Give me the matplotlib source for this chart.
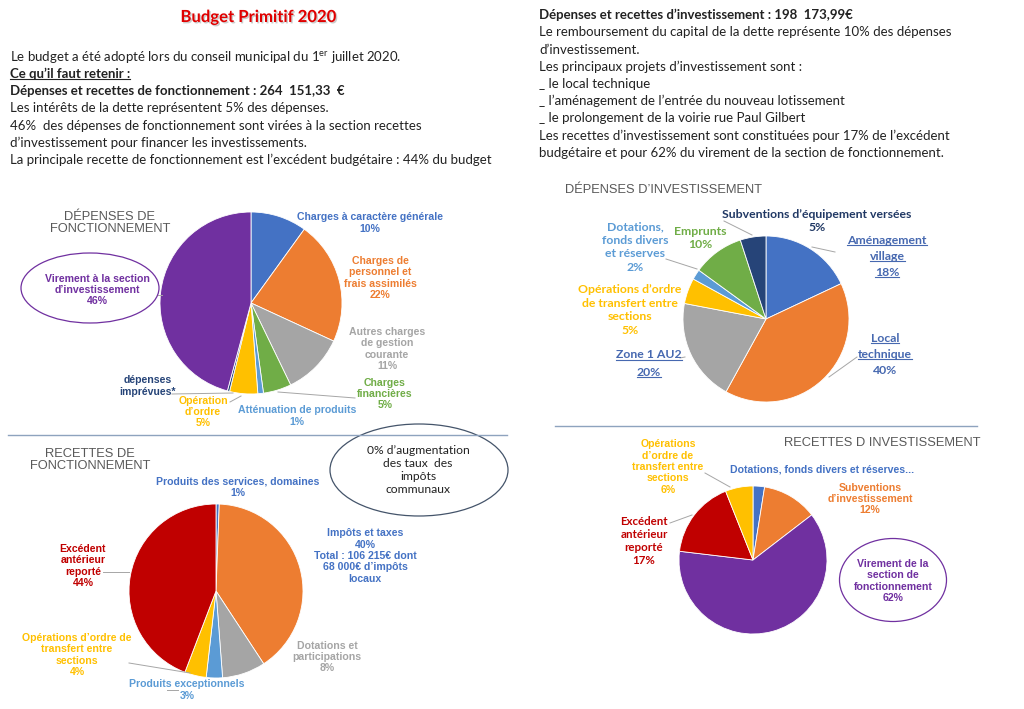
import matplotlib
matplotlib.use("Agg")
from matplotlib import pyplot as plt
from matplotlib.patches import Ellipse
import matplotlib.patheffects as pe

plt.rcParams['font.family'] = ['Lato', 'DejaVu Sans']
plt.rcParams['mathtext.fontset'] = 'custom'
plt.rcParams['mathtext.rm'] = 'Lato'

# couleurs type Office
BLEU = '#4472C4'
ORANGE = '#ED7D31'
GRIS = '#A5A5A5'
JAUNE = '#FFC000'
BLEU_CLAIR = '#5B9BD5'
VERT = '#70AD47'
BLEU_FONCE = '#264478'
VIOLET = '#7030A0'
ROUGE = '#C00000'

# ---- données ----
dep_fonc_noms = ['Charges à caractère générale', 'Charges de personnel et frais assimilés',
                 'Autres charges de gestion courante', 'Charges financières',
                 'Atténuation de produits', "Opération d'ordre", 'dépenses imprévues*',
                 "Virement à la section d'investissement"]
dep_fonc_pct = [10, 22, 11, 5, 1, 5, 0.4, 46]
dep_fonc_col = [BLEU, ORANGE, GRIS, VERT, BLEU_CLAIR, JAUNE, BLEU_FONCE, VIOLET]

dep_inv_noms = ['Aménagement village', 'Local technique', 'Zone 1 AU2',
                "Opérations d'ordre de transfert entre sections",
                'Dotations, fonds divers et réserves', 'Emprunts',
                "Subventions d'équipement versées"]
dep_inv_pct = [18, 40, 20, 5, 2, 10, 5]
dep_inv_col = [BLEU, ORANGE, GRIS, JAUNE, BLEU_CLAIR, VERT, BLEU_FONCE]

rec_fonc_noms = ['Produits des services, domaines', 'Impôts et taxes', 'Dotations et participations',
                 'Produits exceptionnels', "Opérations d'ordre de transfert entre sections",
                 'Excédent antérieur reporté']
rec_fonc_pct = [0.6, 40, 8, 3, 4, 44]
rec_fonc_col = [BLEU, ORANGE, GRIS, BLEU_CLAIR, JAUNE, ROUGE]

rec_inv_noms = ['Dotations, fonds divers et réserves', "Subventions d'investissement",
                'Virement de la section de fonctionnement', 'Excédent antérieur reporté',
                "Opérations d'ordre de transfert entre sections"]
rec_inv_pct = [2.5, 12, 62, 17, 6]
rec_inv_col = [BLEU, ORANGE, VIOLET, ROUGE, JAUNE]

texte_gauche = [
    "Le budget a été adopté lors du conseil municipal du 1$^{\\rm er}$ juillet 2020.",
    "Ce qu’il faut retenir :",
    "Dépenses et recettes de fonctionnement : 264  151,33  €",
    "Les intérêts de la dette représentent 5% des dépenses.",
    "46%  des dépenses de fonctionnement sont virées à la section recettes",
    "d’investissement pour financer les investissements.",
    "La principale recette de fonctionnement est l’excédent budgétaire : 44% du budget",
]
texte_droite = [
    "Dépenses et recettes d’investissement : 198  173,99€",
    "Le remboursement du capital de la dette représente 10% des dépenses",
    "d’investissement.",
    "Les principaux projets d’investissement sont :",
    "_ le local technique",
    "_ l’aménagement de l’entrée du nouveau lotissement",
    "_ le prolongement de la voirie rue Paul Gilbert",
    "Les recettes d’investissement sont constituées pour 17% de l’excédent",
    "budgétaire et pour 62% du virement de la section de fonctionnement.",
]

W, H = 1024, 709
fig = plt.figure(figsize=(W / 100, H / 100), dpi=100)
fig.patch.set_facecolor('white')


def camembert(cx, cy, rx, ry, vals, cols):
    ax = fig.add_axes([(cx - rx) / W, 1 - (cy + ry) / H, 2 * rx / W, 2 * ry / H])
    ax.pie(vals, colors=cols, startangle=90, counterclock=False,
           wedgeprops=dict(edgecolor='white', linewidth=0.6))
    ax.set_xlim(-1, 1)
    ax.set_ylim(-1, 1)
    ax.set_aspect('auto')
    ax.axis('off')
    return ax


camembert(251, 303, 91, 91, dep_fonc_pct, dep_fonc_col)
camembert(766, 319, 83, 83, dep_inv_pct, dep_inv_col)
camembert(216, 591, 87, 87, rec_fonc_pct, rec_fonc_col)
camembert(753, 560, 74, 74, rec_inv_pct, rec_inv_col)

bg = fig.add_axes([0, 0, 1, 1])
bg.set_xlim(0, W)
bg.set_ylim(H, 0)
bg.axis('off')
bg.patch.set_alpha(0)

soulignes = []

# titre
bg.text(258, 17, 'Budget Primitif 2020', color='#E00000', fontsize=12, fontweight='bold',
        ha='center', va='center',
        path_effects=[pe.SimplePatchShadow(offset=(1, -1), shadow_rgbFace='#999999', alpha=0.5),
                      pe.Normal()])

# textes du haut
y_g = [57, 74, 91, 108, 126, 143, 160]
for i, (ligne, y) in enumerate(zip(texte_gauche, y_g)):
    gras = i in (1, 2)
    t = bg.text(10, y, ligne, fontsize=9.5, color='#222222', va='center',
                fontweight='bold' if gras else 'normal')
    if i == 1:
        soulignes.append(t)

y_d = [15, 32, 50, 67, 84, 101, 118, 136, 153]
for i, (ligne, y) in enumerate(zip(texte_droite, y_d)):
    bg.text(539, y, ligne, fontsize=9.5, color='#222222', va='center',
            fontweight='bold' if i == 0 else 'normal')

# séparateurs
bg.plot([8, 507], [435, 435], color='#8EA3BE', lw=1)
bg.plot([555, 977], [426, 426], color='#8EA3BE', lw=1)

# titres des graphiques
TITRE = dict(color='#595959', fontsize=9.3, family=['Liberation Sans', 'DejaVu Sans'])
bg.text(110, 223, 'DÉPENSES DE\nFONCTIONNEMENT', ha='center', va='center', linespacing=1.05, **TITRE)
bg.text(565, 190, 'DÉPENSES D’INVESTISSEMENT', ha='left', va='center', **TITRE)
bg.text(90, 460, 'RECETTES DE\nFONCTIONNEMENT', ha='center', va='center', linespacing=1.05, **TITRE)
bg.text(784, 443, 'RECETTES D INVESTISSEMENT', ha='left', va='center', **TITRE)

ETQ = dict(fontsize=7.6, fontweight='bold', ha='center', va='center', linespacing=1.17,
           family=['Liberation Sans', 'DejaVu Sans'])

# étiquettes dépenses de fonctionnement
bg.text(370, 223, 'Charges à caractère générale\n' + '%g%%' % dep_fonc_pct[0], color=BLEU, **ETQ)
bg.text(380, 278, 'Charges de\npersonnel et\nfrais assimilés\n%g%%' % dep_fonc_pct[1], color=ORANGE, **ETQ)
bg.text(387, 349, 'Autres charges\nde gestion\ncourante\n%g%%' % dep_fonc_pct[2], color=GRIS, **ETQ)
bg.text(385, 394, 'Charges\nfinancières\n%g%%' % dep_fonc_pct[3], color=VERT, **ETQ)
bg.text(297, 416, 'Atténuation de produits\n%g%%' % dep_fonc_pct[4], color=BLEU_CLAIR, **ETQ)
bg.text(203, 412, 'Opération\nd’ordre\n%g%%' % dep_fonc_pct[5], color=JAUNE, **ETQ)
bg.text(148, 386, 'dépenses\nimprévues*', color=BLEU_FONCE, **ETQ)
bg.text(97, 290, 'Virement à la section\nd’investissement\n%g%%' % dep_fonc_pct[7], color=VIOLET, **ETQ)
bg.add_patch(Ellipse((90, 288), 138, 70, fill=False, edgecolor=VIOLET, lw=0.9))
for xs, ys in [([172, 233], [394, 393]), ([230, 241], [402, 396]), ([355, 278], [398, 392]),
               ([158, 162], [295, 295])]:
    bg.plot(xs, ys, color='#A6A6A6', lw=0.7)

# étiquettes dépenses d'investissement
ETQ2 = dict(ETQ, fontsize=8.8, family=['Lato', 'DejaVu Sans'], linespacing=1.3)
BLEU_LIEN = '#4668B0'
bg.text(817, 221, 'Subventions d’équipement versées\n%g%%' % dep_inv_pct[6], color='#203864', **ETQ2)
bg.text(700, 238, 'Emprunts\n%g%%' % dep_inv_pct[5], color=VERT, **ETQ2)
bg.text(635, 247, 'Dotations,\nfonds divers\net réserves\n%g%%' % dep_inv_pct[4], color=BLEU_CLAIR, **ETQ2)
bg.text(630, 310, 'Opérations d’ordre\nde transfert entre\nsections\n%g%%' % dep_inv_pct[3], color=JAUNE, **ETQ2)

for x, y, s in [(887, 240, 'Aménagement'), (887, 256, 'village'), (887, 272, '%g%%' % dep_inv_pct[0]),
                (885, 338, 'Local'), (885, 354, 'technique'),
                (649, 355, 'Zone 1 AU2'), (649, 372, '%g%%' % dep_inv_pct[2])]:
    soulignes.append(bg.text(x, y, s, color=BLEU_LIEN, **ETQ2))
bg.text(885, 370, '%g%%' % dep_inv_pct[1], color=BLEU_LIEN, **ETQ2)
for xs, ys in [([724, 752], [221, 235]), ([835, 812], [252, 247]), ([857, 829], [357, 377]),
               ([680, 685], [358, 357]), ([666, 697], [259, 269])]:
    bg.plot(xs, ys, color='#A6A6A6', lw=0.7)

# étiquettes recettes de fonctionnement
bg.text(238, 487, 'Produits des services, domaines\n1%', color=BLEU, **ETQ)
bg.text(365, 556, 'Impôts et taxes\n%g%%\nTotal : 106 215€ dont\n68 000€ d’impôts\nlocaux' % rec_fonc_pct[1],
        color=BLEU, **ETQ)
bg.text(327, 657, 'Dotations et\nparticipations\n%g%%' % rec_fonc_pct[2], color=GRIS, **ETQ)
bg.text(187, 690, 'Produits exceptionnels\n%g%%' % rec_fonc_pct[3], color=BLEU_CLAIR, **ETQ)
bg.text(77, 655, 'Opérations d’ordre de\ntransfert entre\nsections\n%g%%' % rec_fonc_pct[4], color=JAUNE, **ETQ)
bg.text(83, 566, 'Excédent\nantérieur\nreporté\n%g%%' % rec_fonc_pct[5], color=ROUGE, **ETQ)
for xs, ys in [([103, 129], [572, 572]), ([129, 190], [663, 673]), ([167, 178], [690, 690])]:
    bg.plot(xs, ys, color='#A6A6A6', lw=0.7)
bg.add_patch(Ellipse((419, 470), 178, 92, fill=False, edgecolor='#44546A', lw=0.9))
bg.text(418, 470, '0% d’augmentation\ndes taux  des\nimpôts\ncommunaux', color='#222222', fontsize=8.7,
        ha='center', va='center', linespacing=1.25)

# étiquettes recettes d'investissement
bg.text(668, 467, 'Opérations\nd’ordre de\ntransfert entre\nsections\n%g%%' % rec_inv_pct[4], color=JAUNE, **ETQ)
bg.text(822, 470, 'Dotations, fonds divers et réserves...', color=BLEU, **ETQ)
bg.text(870, 499, 'Subventions\nd’investissement\n%g%%' % rec_inv_pct[1], color=ORANGE, **ETQ)
bg.text(644, 541, 'Excédent\nantérieur\nreporté\n%g%%' % rec_inv_pct[3],
        color=ROUGE, **dict(ETQ2, fontsize=8.3, linespacing=1.2))
bg.text(893, 581, 'Virement de la\nsection de\nfonctionnement\n%g%%' % rec_inv_pct[2], color=VIOLET, **ETQ)
bg.add_patch(Ellipse((893, 580), 107, 83, fill=False, edgecolor=VIOLET, lw=0.9))
for xs, ys in [([705, 730], [473, 487]), ([670, 692], [523, 515])]:
    bg.plot(xs, ys, color='#A6A6A6', lw=0.7)

# soulignements
fig.canvas.draw()
inv = bg.transData.inverted()
for t in soulignes:
    bb = t.get_window_extent()
    (x0, y0), (x1, y1) = inv.transform([(bb.x0, bb.y0), (bb.x1, bb.y1)])
    bg.plot([x0, x1], [y0 - 1, y0 - 1], color=t.get_color(), lw=0.8)

fig.savefig('out.png', dpi=100)
